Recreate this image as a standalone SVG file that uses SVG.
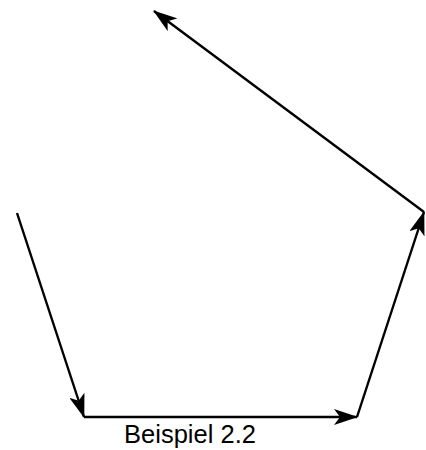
<svg xmlns="http://www.w3.org/2000/svg" width="426" height="450" viewBox="0 0 426 450">
<style>
.c{fill:none;stroke:#000;stroke-width:2.4;marker-end:url(#ah)}
.t{font-family:"Liberation Sans",Arial,sans-serif;font-size:25.5px;fill:#000}
</style>
<defs>
<marker id="ah" markerUnits="userSpaceOnUse" viewBox="0 0 24 16" refX="23" refY="8" markerWidth="24" markerHeight="16" orient="auto">
<path d="M0,0 L24,8 L0,16 L6,8 Z" fill="#000"/>
</marker>
</defs>
<rect width="426" height="450" fill="#fff"/>
<g id="connectors">
<line class="c" x1="17" y1="213" x2="84" y2="417"/>
<line class="c" x1="84" y1="417" x2="357" y2="417"/>
<line class="c" x1="357" y1="417" x2="424" y2="212"/>
<line class="c" x1="424" y1="212" x2="154" y2="11"/>
</g>
<g id="label">
<text class="t" x="190" y="443" text-anchor="middle">Beispiel 2.2</text>
</g>
</svg>
